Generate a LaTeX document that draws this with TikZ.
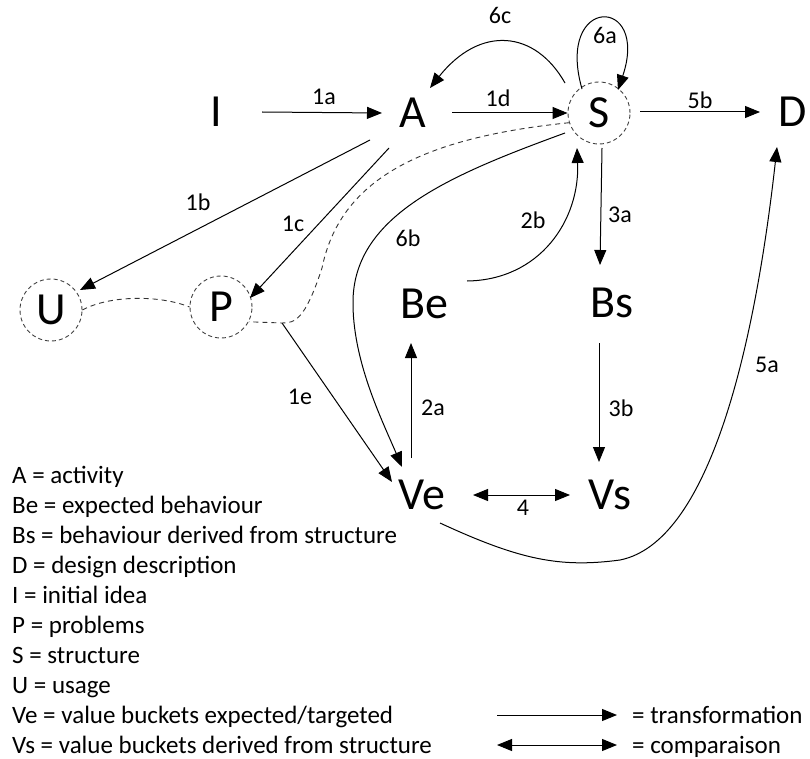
\documentclass[tikz,border=0pt]{standalone}
\usepackage{fontspec}
\setmainfont{Carlito}
\usetikzlibrary{arrows.meta,calc}
\begin{document}
\begin{tikzpicture}[x=1pt,y=-1pt,
  big/.style={font=\fontsize{46}{50}\selectfont, inner sep=0pt},
  lbl/.style={font=\fontsize{24}{28}\selectfont, inner sep=0pt},
  leg/.style={font=\fontsize{25}{29}\selectfont, inner sep=0pt, anchor=base west},
  ring/.style={circle, draw=black!75, dash pattern=on 4pt off 3pt, line width=0.9pt, minimum size=62pt, inner sep=0pt},
  conn/.style={line width=1pt, -{Triangle[length=15pt,width=12pt]}},
  both/.style={line width=1pt, {Triangle[length=15pt,width=12pt]}-{Triangle[length=15pt,width=12pt]}},
  dline/.style={line width=0.9pt, draw=black!80, dash pattern=on 5pt off 4pt}]
\useasboundingbox (0,0) rectangle (810,759);

% nodes
\node[big] (I) at (216,112) {I};
\node[big] (A) at (413,113) {A};
\node[big] (D) at (793,112) {D};
\node[big] (Be) at (424,304) {Be};
\node[big] (Bs) at (612,303) {Bs};
\node[big] (Ve) at (422,495) {Ve};
\node[big] (Vs) at (610,495) {Vs};
\node[ring] (S) at (599,113) {};
\node[big] (St) at (S) {S};
\node[ring] (U) at (51,310) {};
\node[big] (Ut) at (U) {U};
\node[ring] (P) at (221,307) {};
\node[big] (Pt) at (P) {P};

% connectors
\draw[conn] ($(I)+(46,0)$) -- ($(A)+(-31,0)$);
\draw[conn] ($(A)+(39,0)$) -- (S.west);
\draw[conn] ($(S)+(41,-1)$) -- ($(D)+(-33,0)$);
\draw[conn] ($(S)+(-34,-30)$) .. controls (535,30) and (480,25) .. ($(A)+(17,-25)$);
\draw[conn] ($(S)+(-17,-24)$) .. controls (555,-5) and (650,-5) .. ($(S)+(19,-23)$);
\draw[conn] ($(A)+(-43,27)$) -- ($(U)+(29,-20)$);
\draw[conn] ($(A)+(-24,35)$) -- ($(P)+(29,-9)$);
\draw[conn] ($(S)+(3,35)$) -- ($(Bs)+(-12,-38)$);
\draw[conn] ($(Bs)+(-13,40)$) -- ($(Vs)+(-11,-33)$);
\draw[conn] ($(Ve)+(-11,-37)$) -- ($(Be)+(-13,39)$);
\draw[conn] ($(Be)+(43,-23)$) .. controls (540,280) and (580,220) .. ($(S)+(-22,35)$);
\draw[conn] ($(S)+(-34,20)$) .. controls (450,175) and (355,215) .. (353,300)
   .. controls (352,360) and (382,420) .. ($(Ve)+(-20,-28)$);
\coordinate (Pk) at (282,323);
\draw[conn] (Pk) -- ($(Ve)+(-30,-13)$);
\draw[both] ($(Ve)+(51,0)$) -- ($(Vs)+(-40,0)$);
\draw[conn] ($(Ve)+(18,28)$) .. controls (520,560) and (560,568) .. (620,560)
   .. controls (720,540) and (760,300) .. ($(D)+(-16,35)$);

% dashed links
\draw[dline] (S.198) .. controls (420,138) and (340,180) .. (322,268)
   .. controls (305,320) and (295,323) .. (Pk) -- (P.-28);
\draw[dline] (U.0) .. controls (110,295) and (160,295) .. (P.180);

% edge labels
\node[lbl] (l1a) at (324,97) {1a};
\node[lbl] (l1d) at (498,98) {1d};
\node[lbl] (l5b) at (700,100) {5b};
\node[lbl] (l6c) at (500,15) {6c};
\node[lbl] (l6a) at (605,35) {6a};
\node[lbl] (l1b) at (198,202) {1b};
\node[lbl] (l1c) at (293,224) {1c};
\node[lbl] (l6b) at (408,238) {6b};
\node[lbl] (l2b) at (533,220) {2b};
\node[lbl] (l3a) at (620,215) {3a};
\node[lbl] (l3b) at (621,408) {3b};
\node[lbl] (l2a) at (433,408) {2a};
\node[lbl] (l1e) at (300,397) {1e};
\node[lbl] (l4) at (523,508) {4};
\node[lbl] (l5a) at (767,365) {5a};

% legend
\node[leg] (g1) at (12,483) {A = activity};
\node[leg] (g2) at (12,513) {Be = expected behaviour};
\node[leg] (g3) at (12,543) {Bs = behaviour derived from structure};
\node[leg] (g4) at (12,573) {D = design description};
\node[leg] (g5) at (12,603) {I = initial idea};
\node[leg] (g6) at (12,633) {P = problems};
\node[leg] (g7) at (12,663) {S = structure};
\node[leg] (g8) at (12,693) {U = usage};
\node[leg] (g9) at (12,723) {Ve = value buckets expected/targeted};
\node[leg] (g10) at (12,753) {Vs = value buckets derived from structure};
\coordinate (t0) at (497,715);
\node[leg] (tr) at (632,723) {= transformation};
\node[leg] (cp) at (632,753) {= comparaison};
\coordinate (c0) at (497,745);
\draw[conn] (t0) -- ($(tr.base west)+(-15,-8)$);
\draw[both] (c0) -- ($(cp.base west)+(-15,-8)$);
\end{tikzpicture}
\end{document}
